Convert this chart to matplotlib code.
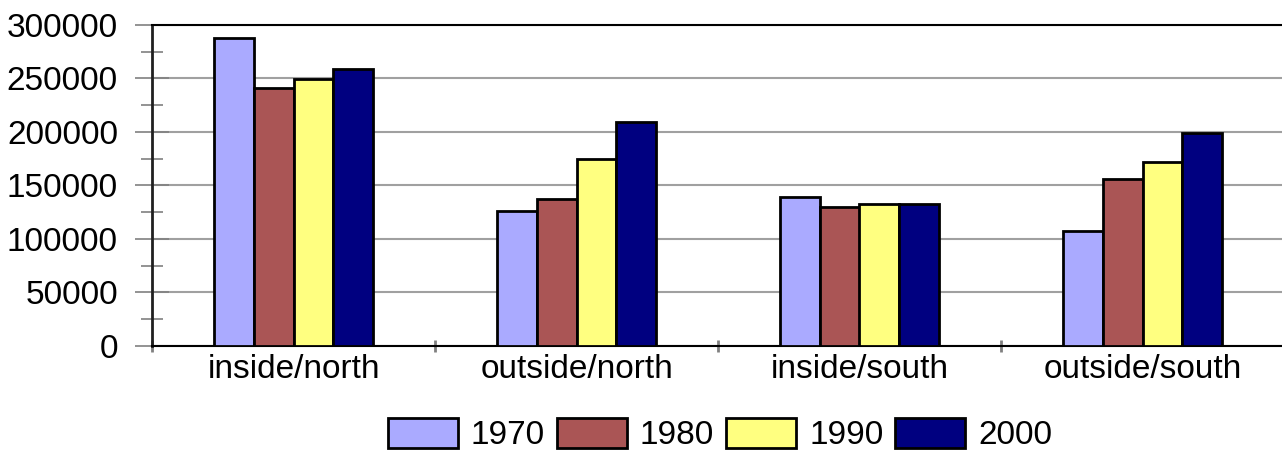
import matplotlib
matplotlib.use("Agg")
import matplotlib.pyplot as plt
import numpy as np
from matplotlib.ticker import MultipleLocator, FixedLocator, NullFormatter

plt.rcParams['font.family'] = ['Liberation Sans', 'DejaVu Sans']

categories = ["inside/north", "outside/north", "inside/south", "outside/south"]
years = ["1970", "1980", "1990", "2000"]
v1970 = [287600, 126300, 139100, 107600]
v1980 = [241300, 137500, 129700, 155600]
v1990 = [249200, 174400, 132500, 171800]
v2000 = [258800, 209500, 132300, 199300]
series = [v1970, v1980, v1990, v2000]
colors = ["#aaaaff", "#aa5555", "#ffff80", "#000080"]

fig = plt.figure(figsize=(12.82, 4.5), dpi=100)
ax = fig.add_axes([152/1282, 1-345.7/450, (1284-152)/1282, (345.7-25)/450])

x = np.arange(len(categories))
w = 0.14
for i, (vals, c, yr) in enumerate(zip(series, colors, years)):
    ax.bar(x + (i - 1.5) * w, vals, width=w, color=c, edgecolor="black",
           linewidth=2, label=yr, zorder=3)

ax.set_xlim(-0.5, 3.5)
ax.set_ylim(0, 300000)
ax.yaxis.set_major_locator(MultipleLocator(50000))
ax.yaxis.set_minor_locator(MultipleLocator(25000))
ax.grid(axis="y", which="major", color="#a0a0a0", linewidth=1.5, zorder=0)
ax.set_axisbelow(True)

ax.tick_params(axis="y", which="major", direction="inout", length=25, width=1.2,
               color="#808080", pad=12, labelsize=24)
ax.tick_params(axis="y", which="minor", direction="inout", length=16.5, width=1.2,
               color="#808080")

ax.xaxis.set_major_locator(FixedLocator([-0.5, 0.5, 1.5, 2.5, 3.5]))
ax.xaxis.set_major_formatter(NullFormatter())
ax.xaxis.set_minor_locator(FixedLocator(list(x)))
ax.set_xticklabels(categories, minor=True)
ax.tick_params(axis="x", which="major", direction="inout", length=9, width=2,
               color="#808080")
ax.tick_params(axis="x", which="minor", length=0, pad=6, labelsize=24)

for s in ["top", "bottom"]:
    ax.spines[s].set_color("black")
    ax.spines[s].set_linewidth(1.5)
ax.spines["left"].set_color("#202020")
ax.spines["left"].set_linewidth(2)
ax.spines["right"].set_visible(False)

leg = fig.legend(loc="upper center", bbox_to_anchor=(720/1282, 1-418/450),
                 ncol=4, frameon=False, fontsize=24, handlelength=2.1,
                 handleheight=1.0, handletextpad=0.4, columnspacing=0.35,
                 borderpad=0, borderaxespad=0)
for p in leg.get_patches():
    p.set_linewidth(2)

fig.savefig("out.png", dpi=100)
